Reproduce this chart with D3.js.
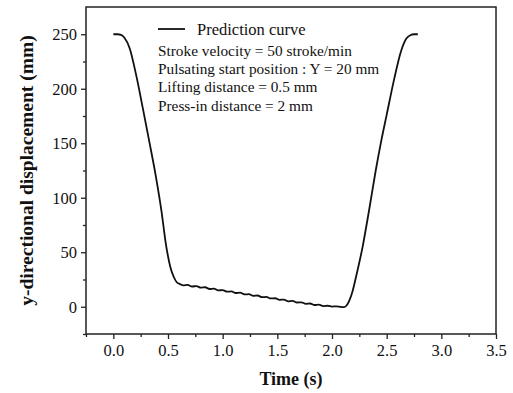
<!DOCTYPE html>
<html>
<head>
<meta charset="utf-8">
<script src="https://cdn.jsdelivr.net/npm/d3@7"></script>
<style>
  body { margin: 0; background: #fff; }
  text { font-family: "Liberation Serif", "Times New Roman", serif; fill: #111; }
</style>
</head>
<body>
<div id="chart"></div>
<script>
// time (s) and y-displacement (mm)
var timeS = [0, 0.04, 0.07, 0.10, 0.15, 0.21, 0.27, 0.33, 0.39, 0.44, 0.48, 0.52, 0.55, 0.58, 0.61,
  0.64, 0.68, 0.72, 0.76, 0.80, 0.84, 0.88, 0.92, 0.96, 1.00, 1.04, 1.08, 1.12, 1.16, 1.20,
  1.24, 1.28, 1.32, 1.36, 1.40, 1.44, 1.48, 1.52, 1.56, 1.60, 1.64, 1.68, 1.72, 1.76, 1.80,
  1.84, 1.88, 1.92, 1.96, 2.00, 2.04, 2.08, 2.11,
  2.14, 2.16, 2.19, 2.22, 2.28, 2.34, 2.40, 2.45, 2.50, 2.57, 2.63, 2.68, 2.72, 2.75, 2.785];
var dispMM = [250, 250, 249.5, 247, 237, 212, 182, 151, 119, 88, 58, 37, 28, 22.5, 20.8,
  19.6, 20.0, 18.6, 19.0, 17.5, 17.9, 16.3, 16.6, 15.0, 15.3, 13.8, 14.1, 12.6, 12.9, 11.3,
  11.5, 10.0, 10.3, 8.8, 9.0, 7.6, 7.8, 6.3, 6.6, 5.0, 5.3, 3.9, 4.1, 2.7, 3.0,
  1.6, 1.9, 0.6, 0.9, 0.2, 0.4, -0.2, -0.4,
  2, 6, 15, 27.5, 55, 89, 125, 152, 176, 209.5, 234, 246, 249.3, 250, 250];

var xTicks = [0, 0.5, 1.0, 1.5, 2.0, 2.5, 3.0, 3.5];
var yTicks = [0, 50, 100, 150, 200, 250];

var legendLabel = "Prediction curve";
var noteLines = ["Stroke velocity = 50 stroke/min",
  "Pulsating start position : Y = 20 mm",
  "Lifting distance = 0.5 mm",
  "Press-in distance = 2 mm"];

var width = 513, height = 393;
var margin = {top: 7, right: 17, bottom: 59, left: 86};

var svg = d3.select("#chart").append("svg")
  .attr("width", width)
  .attr("height", height);

var x = d3.scaleLinear().domain([-0.25, 3.5]).range([margin.left, width - margin.right]);
var y = d3.scaleLinear().domain([-25, 275]).range([height - margin.bottom, margin.top]);

// minor ticks
var xMinor = d3.range(-0.25, 3.5, 0.5);
var yMinor = d3.range(-25, 275, 50);

svg.append("g")
  .attr("transform", "translate(0," + (height - margin.bottom) + ")")
  .call(d3.axisBottom(x).tickValues(xMinor).tickSize(3).tickFormat(""))
  .call(function(g){ g.select(".domain").remove(); })
  .selectAll("line").attr("stroke", "#222").attr("stroke-width", 1.3);

svg.append("g")
  .attr("transform", "translate(" + margin.left + ",0)")
  .call(d3.axisLeft(y).tickValues(yMinor).tickSize(3).tickFormat(""))
  .call(function(g){ g.select(".domain").remove(); })
  .selectAll("line").attr("stroke", "#222").attr("stroke-width", 1.3);

// main axes
var xAxis = svg.append("g")
  .attr("transform", "translate(0," + (height - margin.bottom) + ")")
  .call(d3.axisBottom(x).tickValues(xTicks).tickSize(5).tickPadding(5).tickFormat(d3.format(".1f")));
var yAxis = svg.append("g")
  .attr("transform", "translate(" + margin.left + ",0)")
  .call(d3.axisLeft(y).tickValues(yTicks).tickSize(5).tickPadding(4).tickFormat(d3.format("d")));

[xAxis, yAxis].forEach(function(a){
  a.select(".domain").remove();
  a.selectAll("line").attr("stroke", "#222").attr("stroke-width", 1.3);
  a.selectAll("text")
    .style("font-family", "'Liberation Serif', serif")
    .style("font-size", "16.5px")
    .attr("fill", "#111");
});

// frame
svg.append("rect")
  .attr("x", margin.left)
  .attr("y", margin.top)
  .attr("width", width - margin.left - margin.right)
  .attr("height", height - margin.top - margin.bottom)
  .attr("fill", "none")
  .attr("stroke", "#222")
  .attr("stroke-width", 1.5);

// curve
var pts = timeS.map(function(t, i){ return [t, dispMM[i]]; });
var line = d3.line()
  .x(function(d){ return x(d[0]); })
  .y(function(d){ return y(d[1]); })
  .curve(d3.curveMonotoneX);

svg.append("path")
  .datum(pts)
  .attr("d", line)
  .attr("fill", "none")
  .attr("stroke", "#111")
  .attr("stroke-width", 1.8);

// legend + notes
svg.append("line")
  .attr("x1", 158).attr("x2", 185)
  .attr("y1", 29).attr("y2", 29)
  .attr("stroke", "#111").attr("stroke-width", 1.8);
svg.append("text")
  .attr("x", 197).attr("y", 35)
  .style("font-size", "16.5px")
  .text(legendLabel);

svg.selectAll(".note")
  .data(noteLines)
  .enter().append("text")
  .attr("class", "note")
  .attr("x", 158)
  .attr("y", function(d, i){ return 56 + i * 18.2; })
  .style("font-size", "15.3px")
  .text(function(d){ return d; });

// axis titles
svg.append("text")
  .attr("x", (margin.left + width - margin.right) / 2)
  .attr("y", 385)
  .attr("text-anchor", "middle")
  .style("font-size", "18px")
  .style("font-weight", "bold")
  .text("Time (s)");

svg.append("text")
  .attr("transform", "translate(33," + ((margin.top + height - margin.bottom) / 2) + ") rotate(-90)")
  .attr("text-anchor", "middle")
  .style("font-size", "19.5px")
  .style("font-weight", "bold")
  .text("y-directional displacement (mm)");
</script>
</body>
</html>
